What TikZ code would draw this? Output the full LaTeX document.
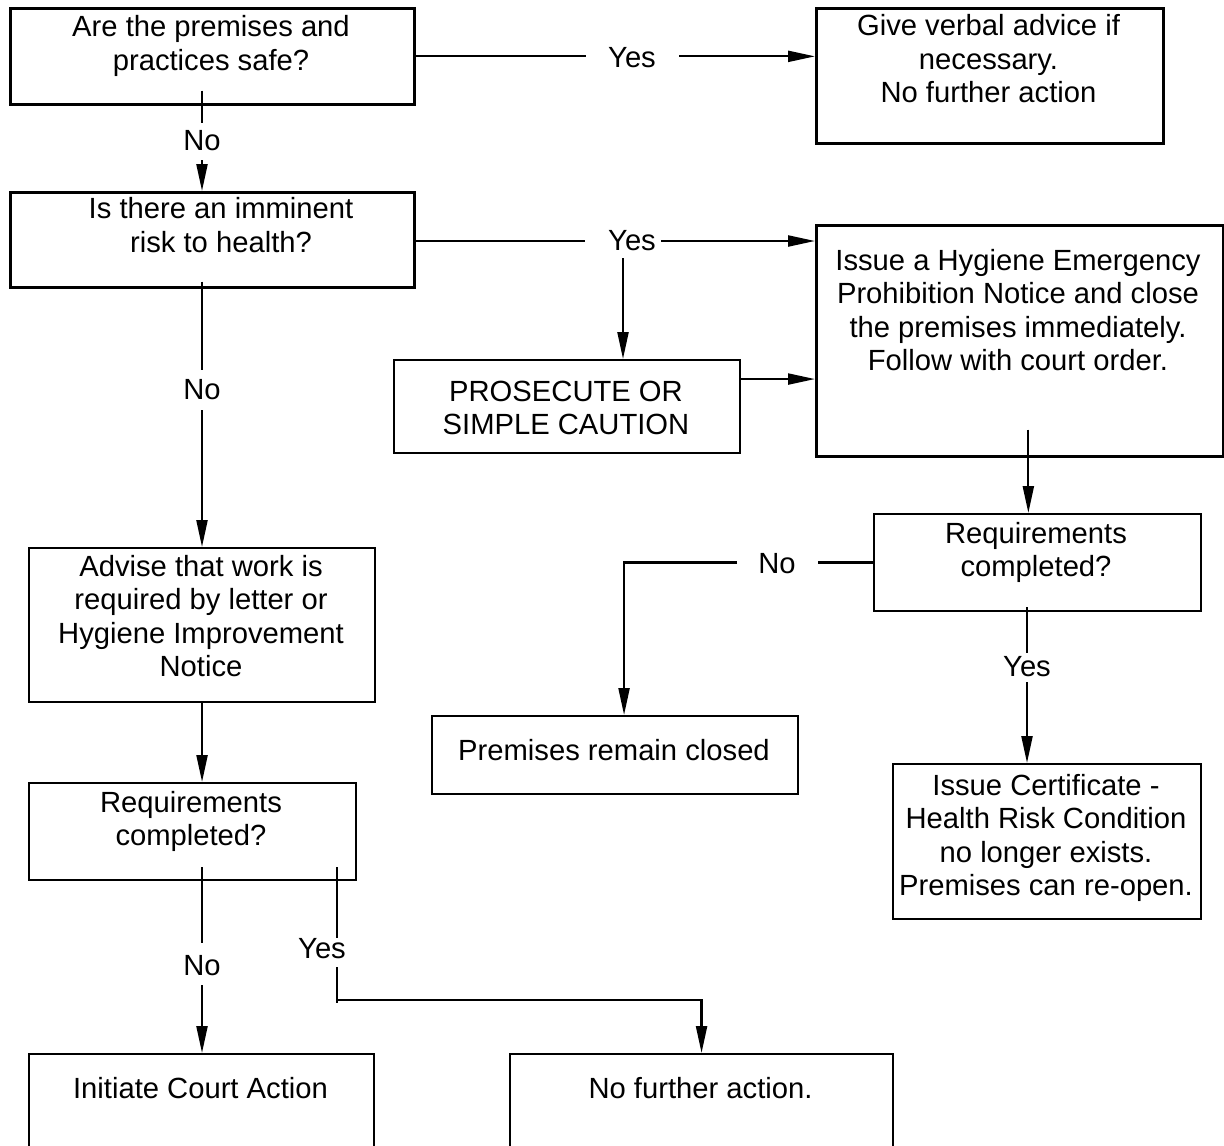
\documentclass[tikz,border=0pt]{standalone}
\usepackage{fontspec}
\setmainfont{Liberation Sans}
\usetikzlibrary{arrows.meta,calc}
\begin{document}
\begin{tikzpicture}[x=1pt,y=-1pt,
  box/.style={draw, line width=2.1pt, inner sep=0pt, anchor=north west},
  thickbox/.style={box, line width=2.7pt},
  txt/.style={align=center, inner sep=0pt, anchor=north, font=\fontsize{29.2}{33.6}\selectfont},
  lbl/.style={inner sep=0pt, font=\fontsize{29.2}{33.6}\selectfont},
  con/.style={line width=2.2pt},
  arr/.style={con, -{Triangle[length=27pt,width=11pt]}}]
\useasboundingbox (0,0) rectangle (1224,1146);
\fill[white] (0,0) rectangle (1224,1146);
\clip (0,0) rectangle (1224,1146);

% boxes
\node[thickbox, minimum width=404, minimum height=96] (q1) at (9,7) {};
\node[thickbox, minimum width=347, minimum height=135] (gv) at (815,7) {};
\node[thickbox, minimum width=404, minimum height=95] (q2) at (9,191) {};
\node[thickbox, minimum width=407, minimum height=231] (he) at (815,224) {};
\node[box, minimum width=346, minimum height=93] (pr) at (393,359) {};
\node[box, minimum width=327, minimum height=97] (rr) at (873,513) {};
\node[box, minimum width=346, minimum height=154] (adv) at (28,547) {};
\node[box, minimum width=366, minimum height=78] (prc) at (431,715) {};
\node[box, minimum width=308, minimum height=155] (cert) at (892,763) {};
\node[box, minimum width=327, minimum height=97] (rl) at (28,782) {};
\node[box, minimum width=345, minimum height=150] (court) at (28,1053) {};
\node[box, minimum width=383, minimum height=150] (nf) at (509,1053) {};

% texts
\node[txt] (q1t) at (211,15.2) {Are the premises and\\practices safe?};
\node[txt] (gvt) at (988.5,14.3) {Give verbal advice if\\necessary.\\No further action};
\node[txt] (q2t) at (221,197.3) {Is there an imminent\\risk to health?};
\node[txt] (het) at (1018,248.8) {Issue a Hygiene Emergency\\Prohibition Notice and close\\the premises immediately.\\Follow with court order.};
\node[txt] (prt) at (566,380.8) {PROSECUTE OR\\SIMPLE CAUTION};
\node[txt] (rrt) at (1036,521.8) {Requirements\\completed?};
\node[txt] (advt) at (201,554.8) {Advise that work is\\required by letter or\\Hygiene Improvement\\Notice};
\node[txt] (prct) at (614,738.8) {Premises remain closed};
\node[txt] (certt) at (1046,773.8) {Issue Certificate -\\Health Risk Condition\\no longer exists.\\Premises can re-open.};
\node[txt] (rlt) at (191,790.8) {Requirements\\completed?};
\node[txt] (courtt) at (200.5,1076.8) {Initiate Court Action};
\node[txt] (nft) at (700.5,1076.8) {No further action.};

% labels
\node[lbl] (y1) at (632,58) {Yes};
\node[lbl] (n1) at (202,141) {No};
\node[lbl] (y2) at (632,241) {Yes};
\node[lbl] (n2) at (202,390) {No};
\node[lbl] (nr) at (777,564) {No};
\node[lbl] (yr) at (1027,667) {Yes};
\node[lbl] (n3) at (202,966) {No};
\node[lbl] (yl) at (322,949) {Yes};

% connectors
\draw[con] (q1.east) -- ($(q1.east -| y1.west)+(-22,0)$);
\draw[arr] ($(q1.east -| y1.east)+(23,0)$) -- (q1.east -| gv.west);

\draw[con] ($(q1.south -| n1)+(0,-15)$) -- ($(n1.north)+(0,-8)$);
\draw[arr] ($(n1.south)+(0,9)$) -- (q2.north -| n1);

\draw[con] (q2.east |- y2) -- ($(y2.west)+(-23,0)$);
\draw[arr] ($(y2.east)+(5,0)$) -- (y2 -| he.west);
\coordinate (y2d) at ($(y2.south)+(-9,7)$);
\draw[arr] (y2d) -- (y2d |- pr.north);

\draw[con] ($(q2.south -| n2)+(0,-7)$) -- ($(n2.north)+(0,-10)$);
\draw[arr] ($(n2.south)+(0,10)$) -- (adv.north -| n2);

\coordinate (pe) at ($(pr.east)+(0,-27.5)$);
\draw[arr] (pe) -- (pe -| he.west);

\coordinate (hd) at ($(he.south)+(8.5,-28)$);
\draw[arr] (hd) -- (hd |- rr.north);

\draw[con] (rr.west) -- ($(rr.west -| nr.east)+(22,0)$);
\coordinate (nc) at ($(rr.west -| prc.north)+(9,0)$);
\draw[arr] ($(rr.west -| nr.west)+(-21,0)$) -- (nc) -- (nc |- prc.north);

\draw[con] ($(rr.south -| yr)+(0,-5)$) -- ($(yr.north)+(0,-4)$);
\draw[arr] ($(yr.south)+(0,5)$) -- (yr |- cert.north);

\draw[arr] (adv.south) -- (adv.south |- rl.north);

\draw[con] ($(rl.south -| n3)+(0,-14)$) -- ($(n3.north)+(0,-13)$);
\draw[arr] ($(n3.south)+(0,9)$) -- (n3 |- court.north);

\coordinate (ylx) at ($(rl.south)+(144.5,-14)$);
\draw[con] (ylx) -- ($(ylx |- yl.north)+(0,-1)$);
\draw[con] ($(ylx |- yl.south)+(0,8)$) -- ($(ylx |- yl.south)+(0,44)$);
\coordinate (yh) at ($(ylx |- yl.south)+(0,41)$);
\draw[arr] (yh) -- (yh -| nf.north) -- (nf.north);
\end{tikzpicture}
\end{document}
